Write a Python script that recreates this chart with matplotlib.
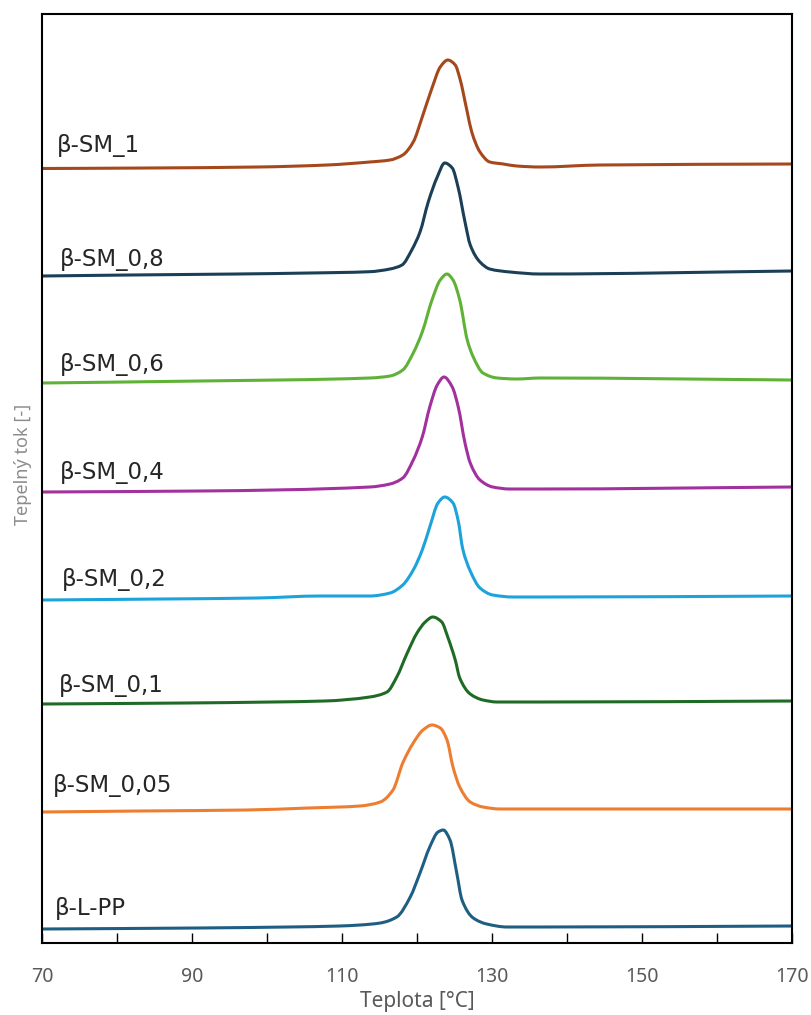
import numpy as np
import matplotlib
matplotlib.use("Agg")
import matplotlib.pyplot as plt
from matplotlib.path import Path
from matplotlib.patches import PathPatch

# krivky DSC - teplota [°C] a tepelny tok [-] (posunute nad sebe)
t_sm1 = [70, 84.1, 98.8, 108.0, 113.7, 116.4, 118.1, 119.5, 120.7, 122.0, 123.1, 124.1, 125.1, 125.7,
         126.7, 127.3, 128.4, 129.7, 131.5, 133.3, 136.4, 144.4, 170]
q_sm1 = [7.745, 7.75, 7.76, 7.78, 7.81, 7.83, 7.88, 8.01, 8.26, 8.55, 8.76, 8.83, 8.78, 8.65,
         8.31, 8.11, 7.91, 7.81, 7.79, 7.77, 7.76, 7.78, 7.79]

t_sm08 = [70, 81.7, 96.0, 105.7, 113.7, 116.4, 118.0, 119.3, 120.4, 121.5, 122.7, 123.7, 124.7, 125.5,
          126.4, 127.1, 128.4, 129.7, 132.4, 136.4, 170]
q_sm08 = [6.67, 6.68, 6.69, 6.70, 6.713, 6.74, 6.78, 6.93, 7.11, 7.41, 7.66, 7.80, 7.75, 7.55,
          7.21, 6.98, 6.81, 6.74, 6.71, 6.69, 6.72]

t_sm06 = [70, 91.1, 113.7, 116.4, 118.1, 119.5, 120.7, 122.0, 123.1, 124.0, 124.8, 125.7, 126.7,
          127.5, 128.8, 130.7, 133.3, 136.4, 170]
q_sm06 = [5.60, 5.62, 5.65, 5.67, 5.73, 5.90, 6.11, 6.43, 6.63, 6.69, 6.63, 6.43, 6.03,
          5.86, 5.70, 5.65, 5.64, 5.65, 5.63]

t_sm04 = [70, 91.1, 113.7, 116.4, 118.1, 119.5, 120.7, 121.7, 122.7, 123.6, 124.7, 125.5, 126.4,
          127.1, 128.4, 130.1, 132.4, 136.4, 170]
q_sm04 = [4.51, 4.52, 4.56, 4.59, 4.65, 4.83, 5.06, 5.36, 5.58, 5.66, 5.56, 5.36, 5.00,
          4.80, 4.63, 4.56, 4.54, 4.54, 4.56]

t_sm02 = [70, 86.1, 98.7, 107.1, 113.7, 116.4, 118.1, 119.5, 120.7, 121.7, 122.8, 123.7, 124.8,
          125.5, 126.1, 127.1, 128.4, 130.1, 132.8, 136.4, 170]
q_sm02 = [3.43, 3.44, 3.45, 3.47, 3.47, 3.50, 3.58, 3.73, 3.93, 4.16, 4.40, 4.46, 4.40,
          4.22, 3.94, 3.72, 3.55, 3.48, 3.46, 3.46, 3.47]

t_sm01 = [70, 89.1, 100.7, 107.7, 113.7, 116.0, 117.3, 118.7, 120.0, 121.1, 122.1, 123.3, 124.1,
          125.1, 125.7, 127.1, 128.8, 130.7, 136.4, 170]
q_sm01 = [2.39, 2.40, 2.41, 2.42, 2.46, 2.51, 2.66, 2.90, 3.10, 3.21, 3.26, 3.21, 3.06,
          2.83, 2.65, 2.49, 2.43, 2.41, 2.41, 2.42]

t_sm005 = [70, 83.1, 97.3, 105.5, 112.4, 115.1, 116.8, 118.1, 119.5, 120.8, 122.0, 123.1, 124.0,
           124.8, 125.7, 127.1, 128.8, 131.1, 136.4, 170]
q_sm005 = [1.31, 1.32, 1.33, 1.35, 1.37, 1.41, 1.53, 1.80, 2.00, 2.13, 2.18, 2.15, 2.03,
           1.76, 1.56, 1.41, 1.36, 1.34, 1.34, 1.34]

t_lpp = [70, 90.7, 102.8, 109.7, 112.4, 115.1, 117.3, 119.1, 120.4, 121.7, 122.8, 123.5, 124.4,
         125.3, 126.0, 127.5, 129.3, 132.0, 136.4, 170]
q_lpp = [0.14, 0.15, 0.16, 0.17, 0.18, 0.20, 0.26, 0.46, 0.70, 0.96, 1.11, 1.13, 1.03,
         0.70, 0.43, 0.25, 0.19, 0.16, 0.16, 0.17]

nazvy = ["β-SM_1", "β-SM_0,8", "β-SM_0,6", "β-SM_0,4", "β-SM_0,2", "β-SM_0,1", "β-SM_0,05", "β-L-PP"]
teploty = [t_sm1, t_sm08, t_sm06, t_sm04, t_sm02, t_sm01, t_sm005, t_lpp]
toky = [q_sm1, q_sm08, q_sm06, q_sm04, q_sm02, q_sm01, q_sm005, q_lpp]
barvy = ["#A5481C", "#1B3F56", "#60B236", "#A2319E", "#1CA3DC", "#1F6B25", "#ED7D31", "#1F5E83"]

# kde jsou popisky (x, y)
popisky_x = [72.0, 72.4, 72.4, 72.4, 72.7, 72.3, 71.5, 71.7]
popisky_y = [7.91, 6.77, 5.72, 4.64, 3.57, 2.51, 1.51, 0.28]


def hladka_cesta(x, y):
    # kubicka Hermitova krivka (sklony jako PCHIP) pres namerene body, jen pro vykresleni
    x = np.asarray(x, float)
    y = np.asarray(y, float)
    h = np.diff(x)
    d = np.diff(y) / h
    m = np.zeros_like(x)
    m[0] = d[0]
    m[-1] = d[-1]
    for i in range(1, len(x) - 1):
        if d[i - 1] * d[i] > 0:
            w1 = 2 * h[i] + h[i - 1]
            w2 = h[i] + 2 * h[i - 1]
            m[i] = (w1 + w2) / (w1 / d[i - 1] + w2 / d[i])
    verts = [(x[0], y[0])]
    codes = [Path.MOVETO]
    for i in range(len(x) - 1):
        verts += [(x[i] + h[i] / 3, y[i] + m[i] * h[i] / 3),
                  (x[i + 1] - h[i] / 3, y[i + 1] - m[i + 1] * h[i] / 3),
                  (x[i + 1], y[i + 1])]
        codes += [Path.CURVE4] * 3
    return Path(verts, codes)


fig = plt.figure(figsize=(8.11, 10.15), dpi=100)
ax = fig.add_axes([42/811, 72/1015, 750/811, 929/1015])

for t, q, c in zip(teploty, toky, barvy):
    ax.add_patch(PathPatch(hladka_cesta(t, q), fill=False, edgecolor=c, lw=2.2,
                           joinstyle='round', capstyle='butt'))

for n, x, y in zip(nazvy, popisky_x, popisky_y):
    ax.text(x, y, n, fontsize=16.5, family='DejaVu Sans', color='#262626', va='baseline', ha='left')

ax.set_xlim(70, 170)
ax.set_ylim(0, 9.29)
ax.set_xticks(np.arange(70, 171, 10))
ax.set_xticklabels([str(v) if (v - 70) % 20 == 0 else '' for v in range(70, 171, 10)])
ax.tick_params(axis='x', direction='in', length=7, width=1, colors='black', labelcolor='#595959',
               labelsize=14, pad=17)
for lab in ax.get_xticklabels():
    lab.set_family('Noto Sans')
ax.set_yticks([])
for s in ax.spines.values():
    s.set_linewidth(1.5)
    s.set_color('black')

ax.set_xlabel('Teplota [°C]', fontsize=15, family='Noto Sans', color='#595959', labelpad=3)
fig.text(23/811, 1 - 464/1015, 'Tepelný tok [-]', rotation=90, fontsize=13, family='Noto Sans',
         color='#8C8C8C', ha='center', va='center')

fig.savefig('out.png', dpi=100)
